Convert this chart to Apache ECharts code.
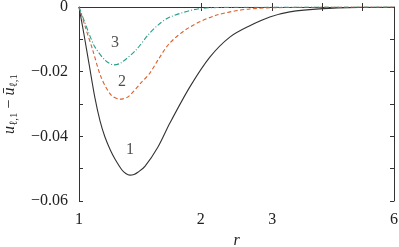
<!DOCTYPE html>
<html><head><meta charset="utf-8">
<script src="https://cdn.jsdelivr.net/npm/echarts@6/dist/echarts.min.js"></script>
<style>html,body{margin:0;padding:0;background:#fff}#c{width:399px;height:247px}</style>
</head><body><div id="c"></div>
<script>
// Curve 1 (solid black)
const r1 = [1, 1.0288, 1.0585, 1.0952, 1.127, 1.159, 1.195, 1.227, 1.277, 1.305, 1.336, 1.367, 1.398, 1.455, 1.567, 1.677, 1.879, 2.105, 2.358, 2.642, 2.96, 3.316, 4.0, 4.94, 6];
const v1 = [0, -0.0085, -0.0175, -0.0282, -0.0352, -0.0402, -0.0442, -0.0470, -0.0504, -0.0515, -0.052, -0.0518, -0.0511, -0.0493, -0.0433, -0.0359, -0.0247, -0.0155, -0.0093, -0.0058, -0.0031, -0.0015, -0.0005, -0.0001, 0];
// Curve 2 (dashed orange)
const r2 = [1, 1.0347, 1.0829, 1.133, 1.1994, 1.2623, 1.3209, 1.422, 1.497, 1.567, 1.677, 1.879, 2.19, 2.642, 3.51, 6];
const v2 = [0, -0.0059, -0.0136, -0.0216, -0.0272, -0.0285, -0.0278, -0.0235, -0.0204, -0.0164, -0.0111, -0.0062, -0.0025, -0.0006, -0.0001, 0];
// Curve 3 (dash-dot teal)
const r3 = [1, 1.0347, 1.0645, 1.0952, 1.159, 1.22, 1.269, 1.383, 1.48, 1.567, 1.677, 1.99, 2.4, 6];
const v3 = [0, -0.0049, -0.009, -0.0124, -0.0164, -0.0179, -0.0173, -0.0133, -0.0087, -0.0056, -0.0031, -0.0005, -0.0001, 0];
// curve annotations
const labelNames = ['1', '2', '3'];
const labelR = [1.336, 1.277, 1.227];
const labelV = [-0.0442, -0.0232, -0.0111];
// ticks
const xTickValues = [2, 3, 4, 5];
const xLabelValues = [1, 2, 3, 6];
const yMin = -0.06, yMax = 0, yStep = 0.01;

const FONT = "'Liberation Serif', 'DejaVu Serif', serif";
const zip = (a, b) => a.map((x, i) => [x, b[i]]);
const fmtY = v => {
  const k = Math.round(v * 100);
  if (k % 2 !== 0) return '';
  if (k === 0) return '0';
  return '\u2212' + Math.abs(v).toFixed(2);
};
const axisLine = { show: true, lineStyle: { color: '#333', width: 1 } };
const tick = { show: true, inside: true, length: 4, lineStyle: { color: '#333', width: 1 } };

const chart = echarts.init(document.getElementById('c'), null, { renderer: 'canvas' });
chart.setOption({
  animation: false,
  backgroundColor: '#fff',
  grid: { left: 79, right: 5, top: 7, bottom: 46, show: false, containLabel: false, outerBoundsMode: 'none' },
  xAxis: [
    {
      type: 'log', logBase: 10, min: 1, max: 6, position: 'bottom',
      name: 'r', nameLocation: 'middle', nameGap: 31,
      nameTextStyle: { fontFamily: FONT, fontStyle: 'italic', fontSize: 16, color: '#222' },
      axisLine: axisLine,
      axisTick: Object.assign({}, tick, { customValues: xTickValues }),
      minorTick: { show: false },
      axisLabel: { customValues: xLabelValues, fontFamily: FONT, fontSize: 16, color: '#222', margin: 11 },
      splitLine: { show: false }
    },
    {
      type: 'log', logBase: 10, min: 1, max: 6, position: 'top',
      axisLine: axisLine,
      axisTick: Object.assign({}, tick, { customValues: xTickValues }),
      axisLabel: { show: false },
      splitLine: { show: false }
    }
  ],
  yAxis: [
    {
      type: 'value', min: yMin, max: yMax, interval: yStep, position: 'left',
      name: '{i|u}{s|\u2113,1}{m| \u2212 }{i|\u016b}{s|\u2113,1}',
      nameLocation: 'middle', nameRotate: 90, nameGap: 53,
      nameTextStyle: {
        color: '#222',
        rich: {
          i: { fontFamily: FONT, fontStyle: 'italic', fontSize: 16, color: '#222', verticalAlign: 'top', lineHeight: 22 },
          m: { fontFamily: FONT, fontSize: 16, color: '#222', verticalAlign: 'top', lineHeight: 22 },
          s: { fontFamily: FONT, fontSize: 11, color: '#222', verticalAlign: 'top', lineHeight: 22, padding: [7, 0, 0, 0] }
        }
      },
      axisLine: axisLine, axisTick: tick,
      axisLabel: { formatter: fmtY, fontFamily: FONT, fontSize: 16, color: '#222', margin: 11 },
      splitLine: { show: false }
    },
    {
      type: 'value', min: yMin, max: yMax, interval: yStep, position: 'right',
      axisLine: axisLine, axisTick: tick,
      axisLabel: { show: false }, splitLine: { show: false }
    }
  ],
  series: [
    { type: 'line', name: '1', data: zip(r1, v1), smooth: 0.3, symbol: 'none',
      lineStyle: { color: '#333', width: 1.1 } },
    { type: 'line', name: '2', data: zip(r2, v2), smooth: 0.3, symbol: 'none',
      lineStyle: { color: '#dd5f2c', width: 1.1, type: [4, 2.5] } },
    { type: 'line', name: '3', data: zip(r3, v3), smooth: 0.3, symbol: 'none',
      lineStyle: { color: '#2a9d8c', width: 1.1, type: [5, 2, 1, 2] } },
    { type: 'scatter', symbolSize: 0, silent: true,
      data: labelNames.map((n, i) => ({ name: n, value: [labelR[i], labelV[i]] })),
      label: { show: true, position: 'inside', formatter: p => p.name,
        fontFamily: FONT, fontSize: 16, color: '#222' } }
  ]
});
</script></body></html>
